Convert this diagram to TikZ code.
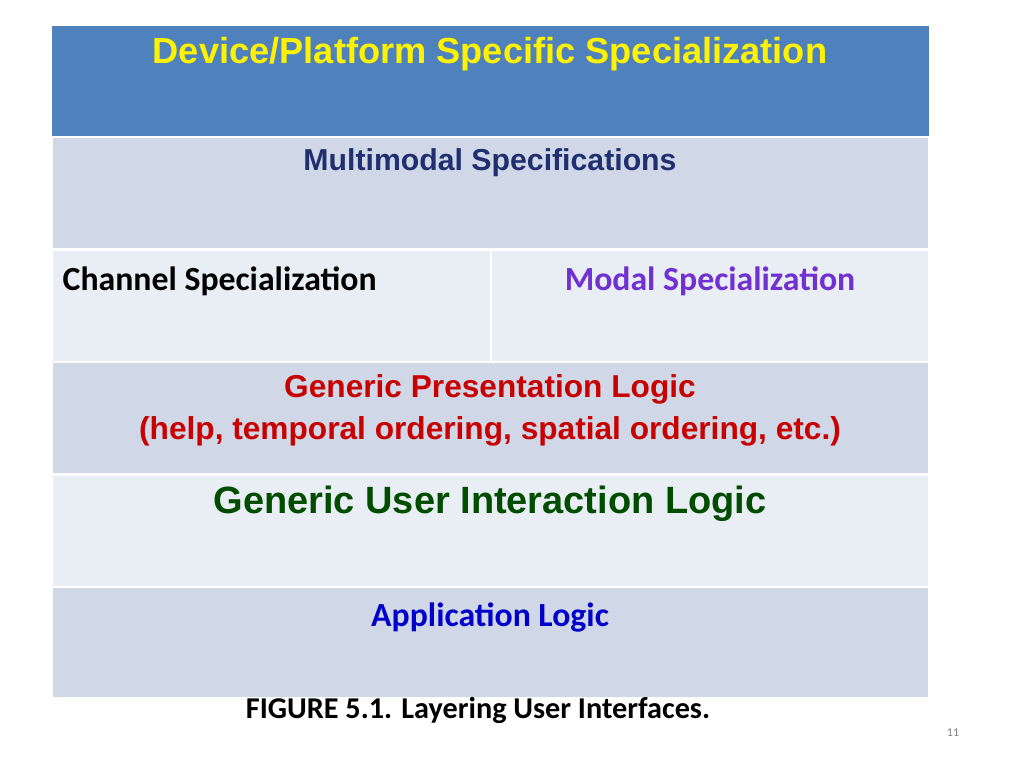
\documentclass[tikz,border=0pt]{standalone}
\usepackage{fontspec}
\setmainfont{Liberation Sans}
\newfontfamily\calibri{Carlito}
\definecolor{hdrblue}{RGB}{79,129,189}
\definecolor{rowdark}{RGB}{208,216,232}
\definecolor{rowlight}{RGB}{233,237,244}
\definecolor{navytxt}{RGB}{31,47,111}
\definecolor{modaltxt}{RGB}{112,48,210}
\definecolor{redtxt}{RGB}{200,0,0}
\definecolor{greentxt}{RGB}{0,77,0}
\definecolor{bluetxt}{RGB}{0,0,204}
\tikzset{
  cell/.style={draw=white, line width=0.6pt},
  lbl/.style={font=\bfseries, inner sep=0pt, anchor=center}
}
\begin{document}
\begin{tikzpicture}[x=0.01cm, y=-0.01cm]
    \useasboundingbox (0,0) rectangle (1024,768);
    % rows of the table
    \fill[hdrblue] (52,26) rectangle (929,137);
    \fill[cell, fill=rowdark]  (52,137) rectangle (929,249.5);
    \fill[cell, fill=rowlight] (52,249.5) rectangle (929,362);
    \fill[cell, fill=rowdark]  (52,362) rectangle (929,474.5);
    \fill[cell, fill=rowlight] (52,474.5) rectangle (929,587);
    \fill[cell, fill=rowdark]  (52,587) rectangle (929,698);
    \draw[white, line width=0.8pt] (52,137) -- (929,137);
    \draw[white, line width=0.8pt] (52,249.5) -- (929,249.5);
    \draw[white, line width=0.8pt] (52,362) -- (929,362);
    \draw[white, line width=0.8pt] (52,474.5) -- (929,474.5);
    \draw[white, line width=0.8pt] (52,587) -- (929,587);
    \draw[white, line width=0.8pt] (491,249.5) -- (491,362);

    \node[lbl, text=yellow, font=\bfseries\fontsize{10.3}{12}\selectfont] (device) at (490,54) {Device/Platform Specific Specialization};
    \node[lbl, text=navytxt, font=\bfseries\fontsize{8.6}{10}\selectfont] (multi) at (490,163) {Multimodal Specifications};
    \node[lbl, anchor=west, font=\calibri\bfseries\fontsize{9.6}{11}\selectfont] (channel) at (62,281) {Channel Specialization};
    \node[lbl, text=modaltxt, font=\calibri\bfseries\fontsize{9.6}{11}\selectfont] (modal) at (710,281) {Modal Specialization};
    \node[lbl, text=redtxt, font=\bfseries\fontsize{9.0}{10.5}\selectfont] (present) at (490,389) {Generic Presentation Logic};
    \node[lbl, text=redtxt, font=\bfseries\fontsize{9.0}{10.5}\selectfont] (present2) at (490,431) {(help, temporal ordering, spatial ordering, etc.)};
    \node[lbl, text=greentxt, font=\bfseries\fontsize{10.8}{12}\selectfont] (interact) at (490,504) {Generic User Interaction Logic};
    \node[lbl, text=bluetxt, font=\calibri\bfseries\fontsize{9.6}{11}\selectfont] (app) at (490,618) {Application Logic};
    \node[lbl, font=\calibri\bfseries\fontsize{8.6}{10}\selectfont] (caption) at (478,710) {FIGURE 5.1. Layering User Interfaces.};
    \node[lbl, text=gray, font=\calibri\fontsize{3.4}{4}\selectfont] (page) at (953,733) {11};
\end{tikzpicture}
\end{document}
